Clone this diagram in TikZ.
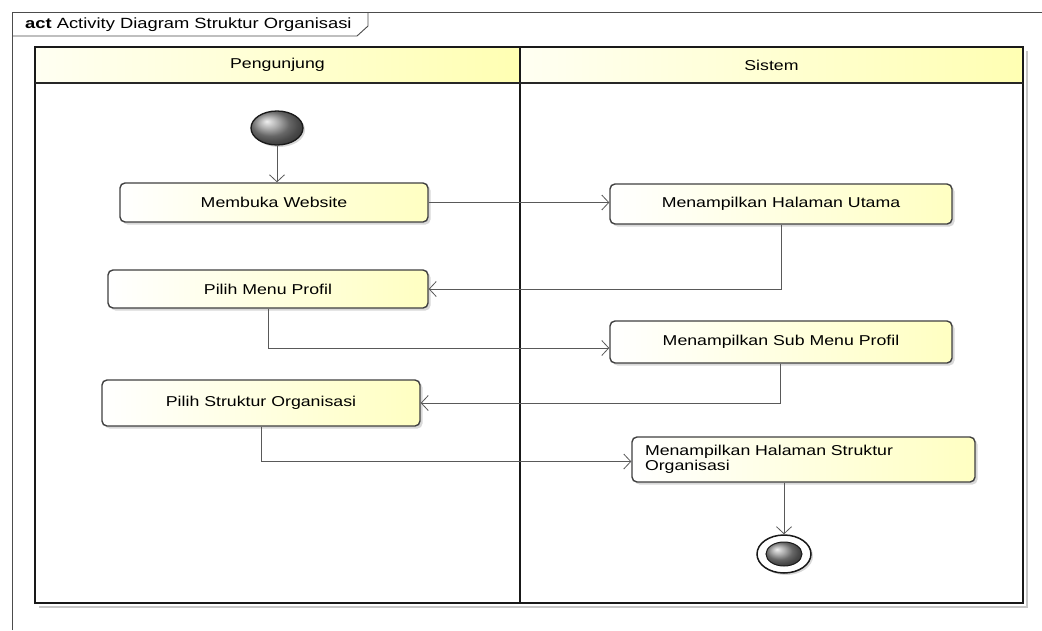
\documentclass[tikz,border=0pt]{standalone}
\usepackage{fontspec}
\setmainfont{Liberation Sans}[FakeStretch=1.24]
\usetikzlibrary{arrows.meta,shapes.geometric,shadows,calc}
\begin{document}
\begin{tikzpicture}[x=1pt,y=-1pt,
  txt/.style={font=\fontsize{14.3}{15.5}\selectfont},
  action/.style={txt, draw=black!75, line width=1.4pt, rounded corners=5pt,
    left color=white, right color=yellow!24,
    drop shadow={shadow xshift=2.5pt,shadow yshift=-2.5pt,fill=black!30,opacity=0.5},
    align=center, inner sep=0pt},
  header/.style={txt, draw=black!85, line width=1.6pt, left color=yellow!5, right color=yellow!30, inner sep=0pt},
  lane/.style={draw=black!90, line width=2.4pt},
  laneshadow/.style={draw=black!22, line width=2pt},
  flow/.style={draw=black!65, line width=0.8pt, -{Straight Barb[length=7pt,width=15pt]}},
  startnode/.style={ellipse, draw=black!90, line width=1.3pt, shading=ball, ball color=gray!85,
    minimum width=52pt, minimum height=34pt, inner sep=0pt,
    drop shadow={shadow xshift=2pt,shadow yshift=-2pt,fill=black!30,opacity=0.5}},
  endouter/.style={ellipse, draw=black!90, line width=1.5pt, fill=white,
    minimum width=54pt, minimum height=38pt, inner sep=0pt,
    drop shadow={shadow xshift=2pt,shadow yshift=-2pt,fill=black!30,opacity=0.5}},
  endinner/.style={ellipse, draw=black!90, line width=1pt, shading=ball, ball color=gray!85,
    minimum width=36pt, minimum height=24pt, inner sep=0pt},
  framepen/.style={draw=black!70, line width=0.9pt}
]
\useasboundingbox (0,0) rectangle (1042,630);
\fill[white] (0,0) rectangle (1042,630);

% outer frame and tab
\draw[framepen] (12,630) -- (12,12) -- (1042,12);
\draw[framepen] (12,36) -- (357,36) -- (368,26) -- (368,12);
\node[font=\fontsize{14.8}{16}\selectfont, anchor=west, inner sep=0pt] (title) at (25,24.5) {\textbf{act} Activity Diagram Struktur Organisasi};

% swimlanes
\draw[laneshadow] (1027,51) -- (1027,607) -- (39,607);
\node[header, minimum width=485pt, minimum height=36pt] (hP) at (277.5,65) {Pengunjung};
\node[header, minimum width=503pt, minimum height=36pt] (hS) at (771.5,65) {Sistem};
\draw[lane] (35,47) rectangle (1023,603);
\draw[lane] (520,47) -- (520,603);
\draw[draw=black!85, line width=1.6pt] (35,83) -- (1023,83);

% nodes
\node[startnode] (start) at (277,128) {};
\node[action, minimum width=308pt, minimum height=39pt] (memb) at (274,202.5) {Membuka Website};
\node[action, minimum width=342pt, minimum height=40pt] (utama) at (781,204) {Menampilkan Halaman Utama};
\node[action, minimum width=320pt, minimum height=38pt] (menu) at (268,289) {Pilih Menu Profil};
\node[action, minimum width=342pt, minimum height=42pt] (sub) at (781,342) {Menampilkan Sub Menu Profil};
\node[action, minimum width=318pt, minimum height=46pt] (struk) at (261,403) {Pilih Struktur Organisasi};
\node[action, text width=317pt, inner xsep=13pt, minimum height=45pt, align=left] (hs) at (803.5,459.5) {Menampilkan Halaman Struktur\\Organisasi};
\node[endouter] (endn) at (784,554) {};
\node[endinner] (endi) at (endn.center) {};

% flows
\draw[flow] (start) -- (start |- memb.north);
\draw[flow] (memb.east) -- (utama.west |- memb.east);
\draw[flow] (utama.south) |- (menu.east);
\draw[flow] (menu.south) |- ([yshift=-6pt]sub.west);
\draw[flow] ([xshift=-1pt]sub.south) |- (struk.east);
\draw[flow] (struk.south) |- ([yshift=-2pt]hs.west);
\draw[flow] (endn |- hs.south) -- (endn.north);
\end{tikzpicture}
\end{document}
